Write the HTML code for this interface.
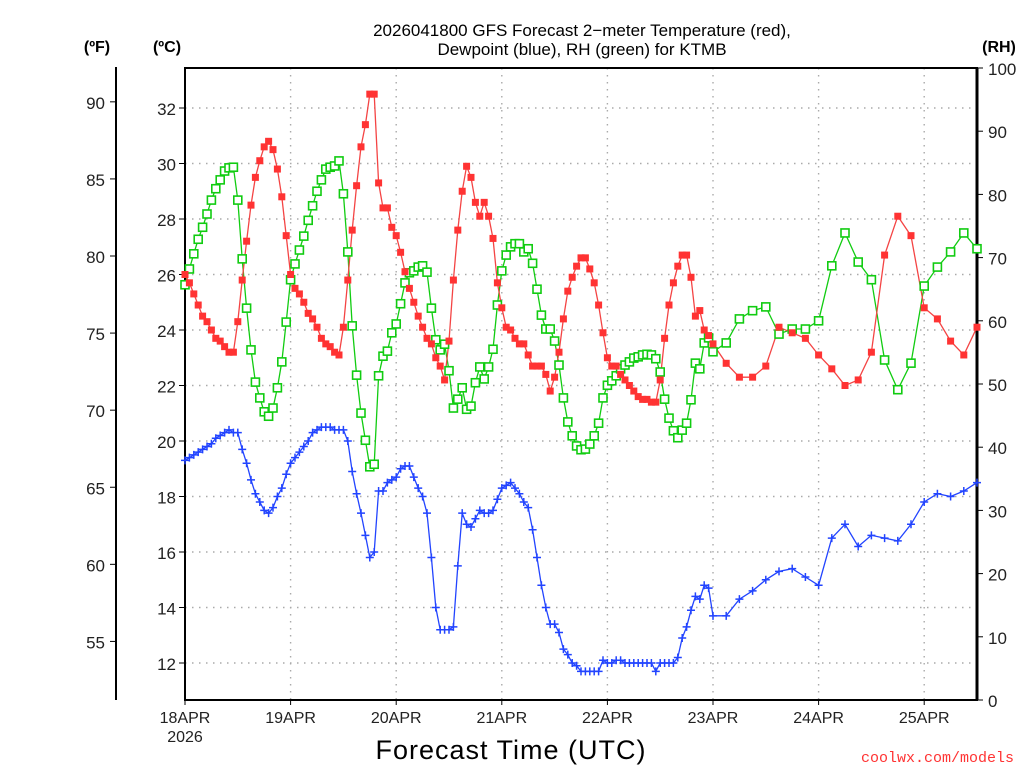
<!DOCTYPE html>
<html><head><meta charset="utf-8">
<style>
html,body{margin:0;padding:0;background:#fff;}
svg{display:block;font-family:"Liberation Sans",sans-serif;}
</style></head>
<body>
<svg id="chart" width="1024" height="768" viewBox="0 0 1024 768" xmlns="http://www.w3.org/2000/svg">
<text x="582" y="36" font-size="17" text-anchor="middle" fill="#000">2026041800 GFS Forecast 2−meter Temperature (red),</text>
<text x="582" y="55" font-size="17" text-anchor="middle" fill="#000">Dewpoint (blue), RH (green) for KTMB</text>
<text x="97" y="52" font-size="16" font-weight="bold" text-anchor="middle">(ºF)</text>
<text x="167" y="52" font-size="16" font-weight="bold" text-anchor="middle">(ºC)</text>
<text x="999" y="52" font-size="16" font-weight="bold" text-anchor="middle">(RH)</text>
<text x="511" y="759" font-size="27" text-anchor="middle" letter-spacing="1">Forecast Time (UTC)</text>
<text x="1014" y="762" font-size="15" text-anchor="end" fill="#f33" font-family="Liberation Mono, monospace">coolwx.com/models</text>
<g id="grid"></g>
<g id="axes"></g>
<g id="series"></g>
</svg>
<script>
// Hourly from 0..120, then 3-hourly to 180
const hours = [];
for (let h = 0; h <= 120; h++) hours.push(h);
for (let h = 123; h <= 180; h += 3) hours.push(h);

const tempC = [26.0,25.7,25.3,24.9,24.5,24.3,24.0,23.7,23.6,23.4,23.2,23.2,24.3,25.8,27.2,28.5,29.5,30.1,30.6,30.8,30.5,29.8,28.8,27.4,
26.0,25.5,25.3,25.0,24.6,24.4,24.1,23.7,23.5,23.4,23.2,23.1,24.1,25.8,27.6,29.2,30.6,31.4,32.5,32.5,29.3,28.4,28.4,27.7,
27.4,26.8,26.1,25.5,25.0,24.5,24.1,23.7,23.5,23.0,22.7,22.2,23.6,25.8,27.6,29.0,29.9,29.5,28.6,28.1,28.6,28.1,27.3,25.7,
24.8,24.1,24.0,23.7,23.5,23.5,23.1,22.7,22.7,22.7,22.4,21.8,22.3,23.2,24.4,25.4,25.9,26.3,26.6,26.6,26.2,25.7,24.9,23.9,
23.0,22.7,22.7,22.4,22.2,22.0,21.8,21.6,21.5,21.5,21.4,21.4,22.2,23.7,24.9,25.7,26.3,26.7,26.7,25.9,24.5,24.7,24.0,23.8,23.5,
22.8,22.3,22.3,22.7,24.1,23.9,23.7,23.1,22.6,22.0,22.2,23.2,26.7,28.1,27.4,24.8,24.4,23.6,23.1,24.1];

const dewC = [19.3,19.4,19.5,19.6,19.7,19.8,19.9,20.1,20.2,20.3,20.4,20.3,20.3,19.7,19.2,18.6,18.1,17.8,17.5,17.4,17.6,18.0,18.3,18.8,
19.2,19.4,19.6,19.8,20.0,20.3,20.4,20.5,20.5,20.5,20.4,20.4,20.4,20.0,18.9,18.1,17.4,16.6,15.8,16.0,18.2,18.2,18.5,18.6,
18.7,19.0,19.1,19.1,18.7,18.3,18.0,17.4,15.8,14.0,13.2,13.2,13.2,13.3,15.5,17.4,17.0,16.9,17.2,17.5,17.4,17.4,17.5,17.9,
18.3,18.4,18.5,18.3,18.1,17.8,17.6,16.8,15.8,14.8,14.0,13.4,13.4,13.1,12.5,12.3,12.0,11.9,11.7,11.7,11.7,11.7,11.7,12.1,
12.0,12.0,12.1,12.1,12.0,12.0,12.0,12.0,12.0,12.0,12.0,11.7,12.0,12.0,12.0,12.0,12.2,12.9,13.3,13.9,14.4,14.3,14.8,14.7,13.7,
13.7,14.3,14.6,15.0,15.3,15.4,15.1,14.8,16.5,17.0,16.2,16.6,16.5,16.4,17.0,17.8,18.1,18.0,18.2,18.5];

const rhPct = [65.7,68.2,70.6,72.9,74.8,76.9,79.1,80.9,82.3,83.7,84.2,84.3,79.1,69.8,62.0,55.4,50.3,47.8,45.6,44.9,46.2,49.4,53.5,59.8,
66.5,69.0,71.2,73.4,75.9,78.2,80.5,82.3,84.0,84.3,84.5,85.3,80.1,70.9,59.2,51.4,45.4,41.1,36.9,37.3,51.3,54.4,55.2,58.1,
59.5,62.7,66.0,67.6,67.9,68.5,68.7,67.7,62.0,57.0,55.4,56.3,52.1,46.2,47.6,49.4,46.0,46.5,50.2,52.7,50.8,52.7,55.5,62.5,
67.9,70.4,71.7,72.2,72.2,70.9,71.4,69.1,65.0,60.9,58.7,58.7,56.8,53.0,47.8,44.0,41.8,40.2,39.6,39.7,40.5,41.8,43.8,47.8,
49.8,50.5,51.3,52.4,53.0,53.5,54.1,54.3,54.6,54.7,54.6,54.0,51.9,47.6,44.6,42.6,41.5,42.7,43.8,47.5,53.3,52.4,56.5,57.3,55.1,
56.5,60.3,61.6,62.2,57.9,58.7,58.7,60.0,68.7,73.9,69.3,66.5,53.8,49.1,53.3,65.5,68.5,70.9,73.9,71.4];

const dayLabels = ["18APR","19APR","20APR","21APR","22APR","23APR","24APR","25APR"];
const celsiusTicks = [12,14,16,18,20,22,24,26,28,30,32];
const fahrenheitTicks = [55,60,65,70,75,80,85,90];
const rhTicks = [0,10,20,30,40,50,60,70,80,90,100];

const NS = "http://www.w3.org/2000/svg";
const L = 185, R = 977, T = 68, B = 700;
const xOf = h => L + (h / 180) * (R - L);
const yC = c => 108 + (32 - c) * 27.75;
const yF = f => yC((f - 32) / 1.8);
const yRH = r => B - r * (B - T) / 100;

function mk(tag, attrs, parent) {
  const e = document.createElementNS(NS, tag);
  for (const k in attrs) e.setAttribute(k, attrs[k]);
  parent.appendChild(e);
  return e;
}
const grid = document.getElementById("grid");
const axes = document.getElementById("axes");
const series = document.getElementById("series");

celsiusTicks.forEach(c => {
  const y = yC(c);
  const g = mk("line", {x1: L, x2: R, y1: y, y2: y, stroke: "#aaa", "stroke-width": 1.4, "stroke-dasharray": "1.5 5.5"}, grid);
  
  
  const t = mk("line", {x1: L - 6, x2: L, y1: y, y2: y, stroke: "#000", "stroke-width": 1}, axes);
  
  
  const lb = mk("text", {x: L - 9, y: y + 7, "font-size": 17, "text-anchor": "end", fill: "#222"}, axes);
  lb.textContent = c;
  
  
});
dayLabels.forEach((d, i) => {
  const x = xOf(i * 24);
  if (i > 0) {
    const g = mk("line", {x1: x, x2: x, y1: T, y2: B, stroke: "#aaa", "stroke-width": 1.4, "stroke-dasharray": "1.5 5.5"}, grid);
    
    
  }
  const t = mk("line", {x1: x, x2: x, y1: B, y2: B + 5, stroke: "#000", "stroke-width": 1}, axes);
  
  
  const lb = mk("text", {x: x, y: B + 23, "font-size": 16, "text-anchor": "middle", fill: "#222"}, axes);
  lb.textContent = d;
  
  
});
const yr = mk("text", {x: L, y: B + 42, "font-size": 16, "text-anchor": "middle", fill: "#222"}, axes);
yr.textContent = "2026";



const fl = mk("line", {x1: 116, x2: 116, y1: 67, y2: B, stroke: "#000", "stroke-width": 2}, axes);


fahrenheitTicks.forEach(f => {
  const y = yF(f);
  const t = mk("line", {x1: 110, x2: 116, y1: y, y2: y, stroke: "#000", "stroke-width": 1}, axes);
  
  
  const lb = mk("text", {x: 105, y: y + 7, "font-size": 17, "text-anchor": "end", fill: "#222"}, axes);
  lb.textContent = f;
  
  
});
rhTicks.forEach(r => {
  const y = yRH(r);
  const t = mk("line", {x1: R, x2: R + 6, y1: y, y2: y, stroke: "#000", "stroke-width": 1}, axes);
  
  
  const lb = mk("text", {x: 988, y: y + 7, "font-size": 17, "text-anchor": "start", fill: "#222"}, axes);
  lb.textContent = r;
  
  
});
const frame = mk("rect", {x: L, y: T, width: R - L, height: B - T, fill: "none", stroke: "#000", "stroke-width": 2}, axes);


const rax = mk("line", {x1: R, x2: R, y1: T, y2: B, stroke: "#000", "stroke-width": 3}, axes);



function drawLine(vals, yfn, color, name) {
  const pts = vals.map((v, i) => xOf(hours[i]).toFixed(1) + "," + yfn(v).toFixed(1)).join(" ");
  const pl = mk("polyline", {points: pts, fill: "none", stroke: color, "stroke-width": 1.3}, series);
  
  
}
drawLine(rhPct, yRH, "#11cc11", "rh-line");
drawLine(tempC, yC, "#f44444", "temperature-line");
drawLine(dewC, yC, "#2244ff", "dewpoint-line");

rhPct.forEach((v, i) => {
  const m = mk("rect", {x: xOf(hours[i]) - 4, y: yRH(v) - 4, width: 8, height: 8, fill: "#fff", stroke: "#11cc11", "stroke-width": 1.6}, series);
  
  
});
tempC.forEach((v, i) => {
  const m = mk("rect", {x: xOf(hours[i]) - 3.5, y: yC(v) - 3.5, width: 7, height: 7, fill: "#f33"}, series);
  
  
});
dewC.forEach((v, i) => {
  const x = xOf(hours[i]), y = yC(v);
  const m = mk("path", {d: `M${x-4},${y}H${x+4}M${x},${y-4}V${y+4}`, stroke: "#2244ff", "stroke-width": 1.5, fill: "none"}, series);
  
  
});
</script>
</body></html>
